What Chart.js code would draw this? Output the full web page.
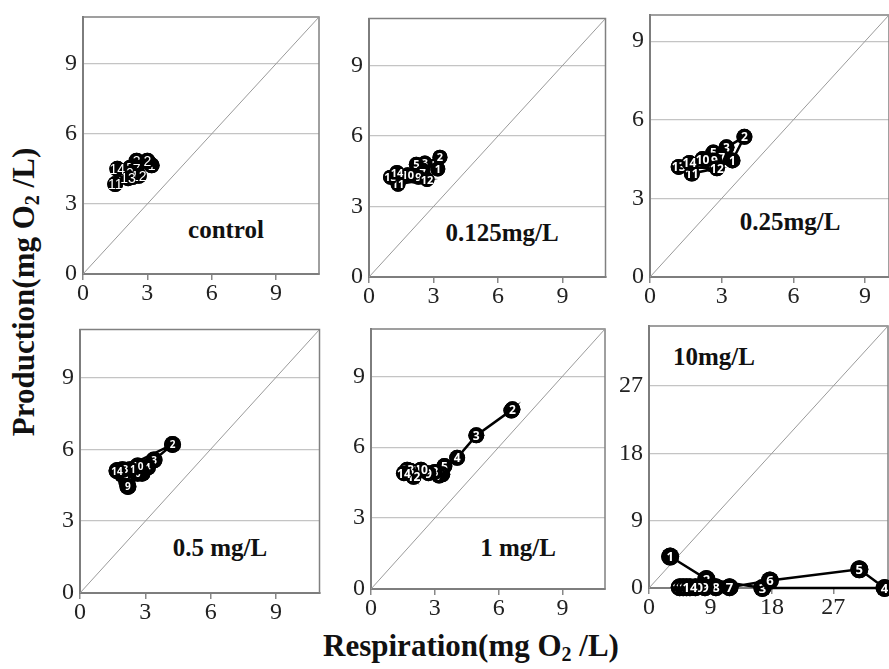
<!DOCTYPE html>
<html>
<head>
<meta charset="UTF-8">
<script src="https://cdn.jsdelivr.net/npm/chart.js@4.4.0/dist/chart.umd.min.js"></script>
<style>
  body { margin:0; width:889px; height:669px; overflow:hidden; background:#fff; position:relative; }
  .tag { position:absolute; font:bold 25px "Liberation Serif", serif; color:#111; white-space:nowrap; transform:translate(-50%,-50%); }
  .title { position:absolute; font:bold 31px "Liberation Serif", serif; color:#111; white-space:nowrap; transform:translate(-50%,-50%); }
  .title sub { font-size:20px; vertical-align:-5px; }
  .vert { transform:translate(-50%,-50%) rotate(-90deg); }
</style>
</head>
<body>
<div class="title vert" style="left:25px;top:292px">Production(mg O<sub>2</sub> /L)</div>
<div class="title" style="left:471px;top:647px">Respiration(mg O<sub>2</sub> /L)</div>
<div class="tag" style="left:226px;top:230px">control</div>
<div class="tag" style="left:502px;top:233px">0.125mg/L</div>
<div class="tag" style="left:790px;top:222px">0.25mg/L</div>
<div class="tag" style="left:220px;top:548px">0.5 mg/L</div>
<div class="tag" style="left:518px;top:548px">1 mg/L</div>
<div class="tag" style="left:714px;top:357px">10mg/L</div>
<script>
// 日数ラベル
var dayLabels = ['1','2','3','4','5','6','7','8','9','10','11','12','13','14'];

// 軸目盛
var ticksSmall = [0, 3, 6, 9];
var ticksLarge = [0, 9, 18, 27];

// control
var controlResp = [3.2, 3.0, 2.5, 2.4, 2.2, 2.4, 2.5, 2.2, 2.3, 2.0, 1.5, 2.6, 2.1, 1.6];
var controlProd = [4.65, 4.85, 4.85, 4.6, 4.55, 4.4, 4.5, 4.2, 4.15, 4.3, 3.85, 4.2, 4.1, 4.5];
// 0.125mg/L
var c0125Resp = [3.2, 3.3, 2.6, 2.5, 2.2, 2.4, 2.5, 2.1, 2.3, 1.8, 1.35, 2.7, 1.0, 1.3];
var c0125Prod = [4.6, 5.1, 4.85, 4.55, 4.8, 4.35, 4.45, 4.3, 4.25, 4.35, 3.95, 4.15, 4.25, 4.45];
// 0.25mg/L
var c025Resp = [3.45, 3.95, 3.2, 2.95, 2.65, 2.75, 3.0, 2.6, 2.7, 2.2, 1.75, 2.8, 1.2, 1.65];
var c025Prod = [4.45, 5.35, 4.95, 4.65, 4.75, 4.35, 4.55, 4.3, 4.45, 4.5, 3.95, 4.15, 4.2, 4.35];
// 0.5 mg/L
var c05Resp = [1.75, 4.25, 3.4, 3.1, 2.85, 2.65, 2.15, 2.2, 2.2, 2.65, 2.3, 1.95, 1.95, 1.7];
var c05Prod = [5.1, 6.2, 5.55, 5.25, 5.0, 5.0, 4.65, 4.85, 4.45, 5.3, 5.15, 4.95, 5.15, 5.1];
// 1 mg/L
var c1Resp = [6.6, 6.65, 4.95, 4.05, 3.45, 3.35, 3.2, 3.0, 2.7, 2.35, 1.85, 2.0, 1.7, 1.55];
var c1Prod = [7.55, 7.6, 6.5, 5.55, 5.2, 4.85, 4.8, 4.95, 4.9, 5.05, 5.0, 4.75, 5.05, 4.9];
// 10mg/L
var c10Resp = [3.1, 8.4, 16.6, 34.5, 30.8, 17.7, 11.8, 9.8, 8.2, 6.8, 4.5, 5.0, 5.5, 6.0];
var c10Prod = [4.2, 1.2, 0.0, 0.0, 2.5, 1.0, 0.1, 0.1, 0.1, 0.1, 0.1, 0.1, 0.1, 0.1];

// 丸と番号、枠線
var dayPlugin = {
  id: 'dayLabels',
  beforeDatasetsDraw: function(chart) {
    var a = chart.chartArea, ctx = chart.ctx;
    ctx.save();
    ctx.strokeStyle = '#808080';
    ctx.lineWidth = 1.5;
    ctx.strokeRect(a.left, a.top, a.right - a.left, a.bottom - a.top);
    ctx.restore();
  },
  afterDatasetsDraw: function(chart, args, opts) {
    var ctx = chart.ctx;
    var meta = chart.getDatasetMeta(0);
    ctx.save();
    ctx.font = opts.font;
    ctx.textAlign = 'center';
    ctx.textBaseline = 'middle';
    meta.data.forEach(function(pt, i) {
      ctx.beginPath();
      ctx.arc(pt.x, pt.y, opts.r, 0, Math.PI * 2);
      ctx.fillStyle = '#000';
      ctx.fill();
      ctx.fillStyle = '#fff';
      ctx.fillText(dayLabels[i], pt.x, pt.y + 1);
    });
    ctx.restore();
  }
};

var panels = [
  {left: 83,  top: 15,  right: 321, bottom: 274, xmax: 11, ymax: 11, ticks: ticksSmall, resp: controlResp, prod: controlProd, r: 8,   font: '14px "Liberation Sans"'},
  {left: 369, top: 17,  right: 607, bottom: 277, xmax: 11, ymax: 11, ticks: ticksSmall, resp: c0125Resp, prod: c0125Prod, r: 7.5, font: 'bold 11px "Open Sans"'},
  {left: 650, top: 13,  right: 891, bottom: 277, xmax: 10, ymax: 10, ticks: ticksSmall, resp: c025Resp, prod: c025Prod, r: 8,   font: 'bold 12px "Open Sans"'},
  {left: 80,  top: 327, right: 322, bottom: 593, xmax: 11, ymax: 11, ticks: ticksSmall, resp: c05Resp, prod: c05Prod, r: 8.5, font: 'bold 10px "Open Sans"'},
  {left: 371, top: 327, right: 607, bottom: 589, xmax: 11, ymax: 11, ticks: ticksSmall, resp: c1Resp, prod: c1Prod, r: 8,   font: 'bold 12px "Open Sans"'},
  {left: 649, top: 323, right: 891, bottom: 588, xmax: 35, ymax: 35, ticks: ticksLarge, resp: c10Resp, prod: c10Prod, r: 9,   font: 'bold 13px "Open Sans"'}
];

var padL = 46, padT = 6, padR = 6, padB = 42;

panels.forEach(function(p) {
  var w = p.right - p.left + padL + padR;
  var h = p.bottom - p.top + padT + padB;
  var cv = document.createElement('canvas');
  cv.width = w; cv.height = h;
  cv.style.cssText = 'position:absolute;left:' + (p.left - padL) + 'px;top:' + (p.top - padT) + 'px;width:' + w + 'px;height:' + h + 'px';
  document.body.appendChild(cv);

  var pts = p.resp.map(function(x, i) { return {x: x, y: p.prod[i]}; });
  var diag = Math.min(p.xmax, p.ymax);
  var tickFont = {family: '"Liberation Serif", serif', size: 24, lineHeight: 1};

  new Chart(cv, {
    type: 'scatter',
    data: {
      datasets: [
        {data: pts, showLine: true, borderColor: '#000', borderWidth: 2.5,
         pointRadius: p.r, pointBackgroundColor: '#000', pointBorderWidth: 0, clip: false},
        {data: [{x: 0, y: 0}, {x: diag, y: diag}], showLine: true,
         borderColor: '#9a9a9a', borderWidth: 1, pointRadius: 0}
      ]
    },
    options: {
      responsive: false,
      animation: false,
      devicePixelRatio: 1,
      layout: {padding: {left: 0, top: padT, right: padR, bottom: 0}},
      plugins: {
        legend: {display: false},
        tooltip: {enabled: false},
        dayLabels: {r: p.r, font: p.font}
      },
      scales: {
        x: {
          type: 'linear', min: 0, max: p.xmax,
          afterFit: function(s) { s.height = padB; s.paddingLeft = 0; s.paddingRight = 0; },
          afterBuildTicks: function(s) { s.ticks = p.ticks.map(function(v) { return {value: v}; }); },
          grid: {drawOnChartArea: false, tickLength: 6, color: '#888', lineWidth: 1.5},
          border: {color: '#777', width: 2},
          ticks: {font: tickFont, color: '#222', padding: 2, maxRotation: 0}
        },
        y: {
          type: 'linear', min: 0, max: p.ymax,
          afterFit: function(s) { s.width = padL; s.paddingTop = 0; s.paddingBottom = 0; },
          afterBuildTicks: function(s) { s.ticks = p.ticks.map(function(v) { return {value: v}; }); },
          grid: {drawTicks: false, color: '#c4c4c4', lineWidth: 1.3},
          border: {color: '#777', width: 2},
          ticks: {font: tickFont, color: '#222', padding: 6}
        }
      }
    },
    plugins: [dayPlugin]
  });
});
</script>
</body>
</html>
